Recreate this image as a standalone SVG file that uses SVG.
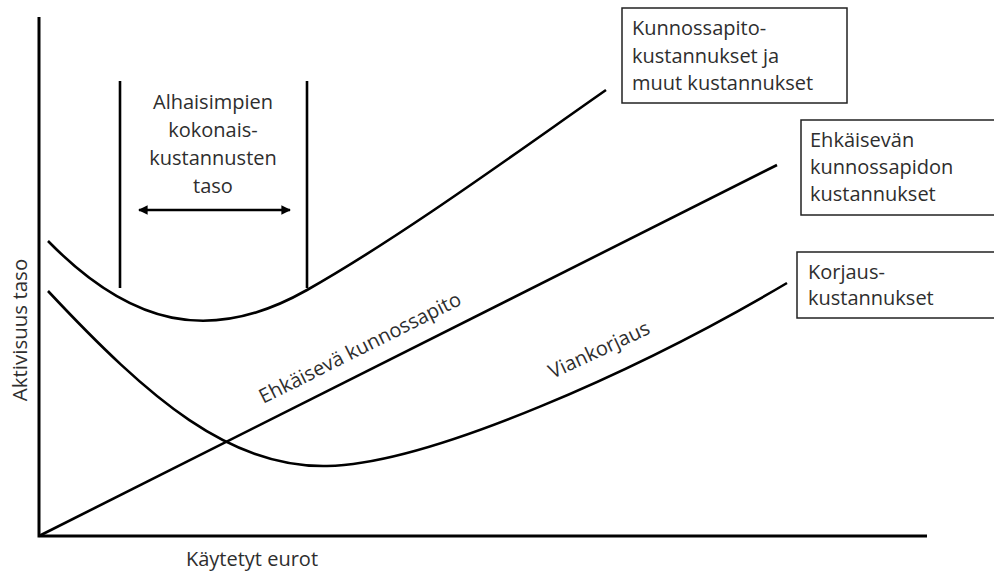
<svg xmlns="http://www.w3.org/2000/svg" width="994" height="573" viewBox="0 0 994 573">
  <style>
    text { font-family: "Open Sans", "Noto Sans", sans-serif; font-size: 20px; fill: #2e2e2e; }
    .axis { stroke: #000; stroke-width: 3; fill: none; }
    .curve { stroke: #000; stroke-width: 2.6; fill: none; }
    .bar { stroke: #000; stroke-width: 2.6; fill: none; }
    .box { stroke: #222; stroke-width: 1.5; fill: #fff; }
  </style>
  <defs>
    <marker id="head" viewBox="0 0 10 10" refX="9" refY="5" markerWidth="4" markerHeight="4" orient="auto-start-reverse">
      <path d="M0,0 L10,5 L0,10 z" fill="#000"/>
    </marker>
  </defs>

  <rect width="994" height="573" fill="#fff"/>

  <!-- axes -->
  <g id="axes">
    <path class="axis" d="M39,17 L39,536 L927,536"/>
    <text transform="translate(27,330) rotate(-90)" text-anchor="middle" style="font-size:20.5px">Aktivisuus taso</text>
    <text x="252" y="566" text-anchor="middle">Käytetyt eurot</text>
  </g>

  <!-- cost curves -->
  <g id="connectors">
    <path id="total-cost" class="curve" d="M48,241 C130,325 210,345 307,290 C404,235 520,150 606,90"/>
    <path id="preventive" class="curve" d="M39,536 L777,165"/>
    <path id="corrective" class="curve" d="M48,291 C150,400 230,468 327,466 C430,464 640,370 787,283"/>
  </g>

  <!-- lowest total cost band -->
  <g id="optimum">
    <line class="bar" x1="120" y1="81" x2="120" y2="288"/>
    <line class="bar" x1="307" y1="81" x2="307" y2="288"/>
    <line stroke="#000" stroke-width="2.4" x1="139" y1="210" x2="290" y2="210" marker-start="url(#head)" marker-end="url(#head)"/>
    <text text-anchor="middle" x="213" y="109">Alhaisimpien</text>
    <text text-anchor="middle" x="213" y="137">kokonais-</text>
    <text text-anchor="middle" x="213" y="165">kustannusten</text>
    <text text-anchor="middle" x="213" y="193">taso</text>
  </g>

  <!-- labels along curves -->
  <g id="label-preventive">
    <text transform="translate(363,354) rotate(-26.7)" text-anchor="middle">Ehkäisevä kunnossapito</text>
  </g>
  <g id="label-corrective">
    <text transform="translate(602,356) rotate(-25)" text-anchor="middle">Viankorjaus</text>
  </g>

  <!-- legend boxes -->
  <g id="box-total">
    <rect class="box" x="622" y="8" width="225" height="95"/>
    <text x="632" y="35">Kunnossapito-</text>
    <text x="632" y="63">kustannukset ja</text>
    <text x="632" y="90">muut kustannukset</text>
  </g>
  <g id="box-preventive">
    <rect class="box" x="801" y="120" width="250" height="95"/>
    <text x="810" y="147">Ehkäisevän</text>
    <text x="810" y="174">kunnossapidon</text>
    <text x="810" y="201">kustannukset</text>
  </g>
  <g id="box-corrective">
    <rect class="box" x="797" y="252" width="250" height="66"/>
    <text x="808" y="279">Korjaus-</text>
    <text x="808" y="305">kustannukset</text>
  </g>
</svg>
